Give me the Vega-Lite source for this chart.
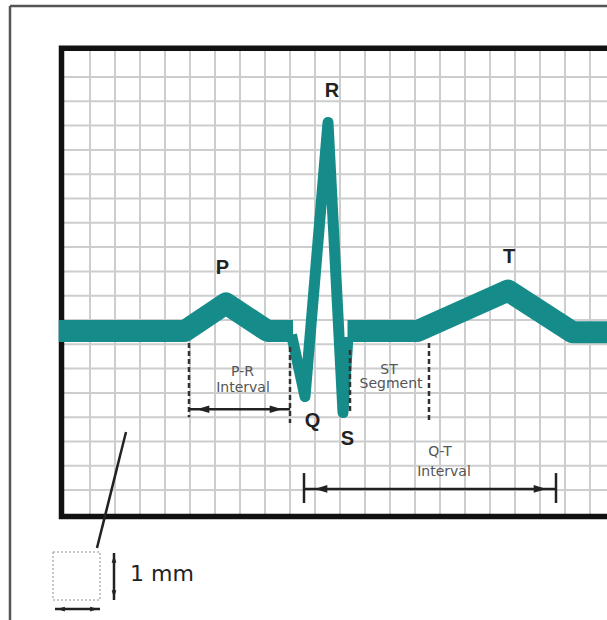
{
  "$schema": "https://vega.github.io/schema/vega-lite/v6.json",
  "width": 607,
  "height": 620,
  "padding": 0,
  "autosize": {"type": "none"},
  "background": "white",
  "config": {"view": {"stroke": null}},
  "datasets": {
    "gridV": [
      {"x": 0, "y": -1.09, "y2": 18.18}, {"x": 1, "y": -1.09, "y2": 18.18}, {"x": 2, "y": -1.09, "y2": 18.18},
      {"x": 3, "y": -1.09, "y2": 18.18}, {"x": 4, "y": -1.09, "y2": 18.18}, {"x": 5, "y": -1.09, "y2": 18.18},
      {"x": 6, "y": -1.09, "y2": 18.18}, {"x": 7, "y": -1.09, "y2": 18.18}, {"x": 8, "y": -1.09, "y2": 18.18},
      {"x": 9, "y": -1.09, "y2": 18.18}, {"x": 10, "y": -1.09, "y2": 18.18}, {"x": 11, "y": -1.09, "y2": 18.18},
      {"x": 12, "y": -1.09, "y2": 18.18}, {"x": 13, "y": -1.09, "y2": 18.18}, {"x": 14, "y": -1.09, "y2": 18.18},
      {"x": 15, "y": -1.09, "y2": 18.18}, {"x": 16, "y": -1.09, "y2": 18.18}, {"x": 17, "y": -1.09, "y2": 18.18},
      {"x": 18, "y": -1.09, "y2": 18.18}, {"x": 19, "y": -1.09, "y2": 18.18}, {"x": 20, "y": -1.09, "y2": 18.18}
    ],
    "gridH": [
      {"y": 0, "x": -1.14, "x2": 21.5}, {"y": 1, "x": -1.14, "x2": 21.5}, {"y": 2, "x": -1.14, "x2": 21.5},
      {"y": 3, "x": -1.14, "x2": 21.5}, {"y": 4, "x": -1.14, "x2": 21.5}, {"y": 5, "x": -1.14, "x2": 21.5},
      {"y": 6, "x": -1.14, "x2": 21.5}, {"y": 7, "x": -1.14, "x2": 21.5}, {"y": 8, "x": -1.14, "x2": 21.5},
      {"y": 9, "x": -1.14, "x2": 21.5}, {"y": 10, "x": -1.14, "x2": 21.5}, {"y": 11, "x": -1.14, "x2": 21.5},
      {"y": 12, "x": -1.14, "x2": 21.5}, {"y": 13, "x": -1.14, "x2": 21.5}, {"y": 14, "x": -1.14, "x2": 21.5},
      {"y": 15, "x": -1.14, "x2": 21.5}, {"y": 16, "x": -1.14, "x2": 21.5}, {"y": 17, "x": -1.14, "x2": 21.5}
    ],
    "box": [{"x": -1.14, "x2": 21.8, "y": -1.09, "y2": 18.18}],
    "ecg": [
      {"x": -1.25, "y": 6.55, "part": "a"},
      {"x": 3.8, "y": 6.55, "part": "a"},
      {"x": 5.44, "y": 7.68, "part": "a"},
      {"x": 7.1, "y": 6.55, "part": "a"},
      {"x": 8.12, "y": 6.55, "part": "a"},
      {"x": 8.06, "y": 6.4, "part": "qrs"},
      {"x": 8.6, "y": 3.85, "part": "qrs"},
      {"x": 9.52, "y": 15.13, "part": "qrs"},
      {"x": 10.12, "y": 3.19, "part": "qrs"},
      {"x": 10.32, "y": 6.3, "part": "qrs"},
      {"x": 10.3, "y": 6.55, "part": "b"},
      {"x": 13.1, "y": 6.55, "part": "b"},
      {"x": 16.72, "y": 8.21, "part": "b"},
      {"x": 19.3, "y": 6.5, "part": "b"},
      {"x": 21.2, "y": 6.5, "part": "b"}
    ],
    "dashes": [
      {"x": 3.96, "y": 6.05, "y2": 3.0},
      {"x": 8.0, "y": 5.89, "y2": 2.76},
      {"x": 10.4, "y": 5.77, "y2": 3.17},
      {"x": 13.56, "y": 6.05, "y2": 2.76}
    ],
    "lines": [
      {"x": 3.96, "x2": 8.0, "y": 3.33, "y2": 3.33},
      {"x": 8.56, "x2": 18.64, "y": 0.05, "y2": 0.05},
      {"x": 8.56, "x2": 8.56, "y": 0.7, "y2": -0.53},
      {"x": 18.64, "x2": 18.64, "y": 0.7, "y2": -0.53},
      {"x": 1.44, "x2": 0.28, "y": 2.39, "y2": -2.383},
      {"x": 0.96, "x2": 0.96, "y": -2.588, "y2": -4.523},
      {"x": -1.4, "x2": 0.4, "y": -4.897, "y2": -4.897}
    ],
    "frame": [
      {"x": -3.2, "x2": 21.5, "y": 19.92, "y2": 19.92},
      {"x": -3.2, "x2": -3.2, "y": 19.92, "y2": -6}
    ],
    "headsBig": [
      {"x": 4.52, "y": 3.33, "dir": "left"},
      {"x": 7.44, "y": 3.33, "dir": "right"},
      {"x": 9.24, "y": 0.05, "dir": "left"},
      {"x": 18.0, "y": 0.05, "dir": "right"}
    ],
    "headsSmall": [
      {"x": 0.96, "y": -2.83, "dir": "up"},
      {"x": 0.96, "y": -4.28, "dir": "down"},
      {"x": -1.16, "y": -4.897, "dir": "left"},
      {"x": 0.16, "y": -4.897, "dir": "right"}
    ],
    "square": [{"x": -1.48, "x2": 0.4, "y": -2.547, "y2": -4.523}],
    "labels": [
      {"x": 5.3, "y": 9.12, "text": "P"},
      {"x": 9.68, "y": 16.44, "text": "R"},
      {"x": 16.76, "y": 9.59, "text": "T"},
      {"x": 8.9, "y": 2.84, "text": "Q"},
      {"x": 10.3, "y": 2.1, "text": "S"}
    ],
    "notes": [
      {"x": 6.1, "y": 4.88, "text": "P-R"},
      {"x": 6.12, "y": 4.22, "text": "Interval"},
      {"x": 11.96, "y": 4.96, "text": "ST"},
      {"x": 12.04, "y": 4.35, "text": "Segment"},
      {"x": 14.0, "y": 1.55, "text": "Q-T"},
      {"x": 14.16, "y": 0.75, "text": "Interval"}
    ],
    "unit": [{"x": 1.6, "y": -3.45, "text": "1 mm"}]
  },
  "encoding": {
    "x": {"field": "x", "type": "quantitative", "scale": {"domain": [-3.6, 20.68], "nice": false, "zero": false}, "axis": null},
    "y": {"field": "y", "type": "quantitative", "scale": {"domain": [-5.3457, 20.1687], "nice": false, "zero": false}, "axis": null}
  },
  "layer": [
    {
      "data": {"name": "gridV"},
      "mark": {"type": "rule", "color": "#cdcdcd", "strokeWidth": 2},
      "encoding": {"y2": {"field": "y2"}}
    },
    {
      "data": {"name": "gridH"},
      "mark": {"type": "rule", "color": "#cdcdcd", "strokeWidth": 2},
      "encoding": {"x2": {"field": "x2"}}
    },
    {
      "data": {"name": "box"},
      "mark": {"type": "rect", "fill": "transparent", "stroke": "#111111", "strokeWidth": 5.5},
      "encoding": {"x2": {"field": "x2"}, "y2": {"field": "y2"}}
    },
    {
      "data": {"name": "ecg"},
      "mark": {"type": "line", "color": "#168c8a", "strokeJoin": "round", "strokeCap": "butt"},
      "encoding": {
        "strokeWidth": {"field": "part", "type": "nominal", "scale": {"type": "ordinal", "domain": ["a", "qrs", "b"], "range": [22, 11, 22]}, "legend": null}
      }
    },
    {
      "data": {"name": "dashes"},
      "mark": {"type": "rule", "color": "#333333", "strokeWidth": 2.5, "strokeDash": [5, 3]},
      "encoding": {"y2": {"field": "y2"}}
    },
    {
      "data": {"name": "lines"},
      "mark": {"type": "rule", "color": "#222222", "strokeWidth": 2.5},
      "encoding": {"x2": {"field": "x2"}, "y2": {"field": "y2"}}
    },
    {
      "data": {"name": "frame"},
      "mark": {"type": "rule", "color": "#555555", "strokeWidth": 2.5},
      "encoding": {"x2": {"field": "x2"}, "y2": {"field": "y2"}}
    },
    {
      "data": {"name": "headsBig"},
      "mark": {"type": "point", "filled": true, "color": "#222222", "opacity": 1, "size": 160},
      "encoding": {
        "shape": {"field": "dir", "type": "nominal", "scale": {"domain": ["left", "right", "up", "down"], "range": ["M -1 0 L 1 -0.6 L 1 0.6 Z", "M 1 0 L -1 -0.6 L -1 0.6 Z", "M 0 -1 L -0.6 1 L 0.6 1 Z", "M 0 1 L -0.6 -1 L 0.6 -1 Z"]}, "legend": null}
      }
    },
    {
      "data": {"name": "headsSmall"},
      "mark": {"type": "point", "filled": true, "color": "#222222", "opacity": 1, "size": 60},
      "encoding": {
        "shape": {"field": "dir", "type": "nominal", "scale": {"domain": ["left", "right", "up", "down"], "range": ["M -1 0 L 1 -0.6 L 1 0.6 Z", "M 1 0 L -1 -0.6 L -1 0.6 Z", "M 0 -1 L -0.6 1 L 0.6 1 Z", "M 0 1 L -0.6 -1 L 0.6 -1 Z"]}, "legend": null}
      }
    },
    {
      "data": {"name": "square"},
      "mark": {"type": "rect", "fill": "transparent", "stroke": "#b5b5b5", "strokeWidth": 1.5, "strokeDash": [2, 2]},
      "encoding": {"x2": {"field": "x2"}, "y2": {"field": "y2"}}
    },
    {
      "data": {"name": "labels"},
      "mark": {"type": "text", "font": "Liberation Sans", "fontWeight": "bold", "fontSize": 20, "color": "#222222", "align": "center", "baseline": "middle"},
      "encoding": {"text": {"field": "text"}}
    },
    {
      "data": {"name": "notes"},
      "mark": {"type": "text", "font": "DejaVu Sans", "fontSize": 14, "color": "#555555", "align": "center", "baseline": "middle"},
      "encoding": {"text": {"field": "text"}}
    },
    {
      "data": {"name": "unit"},
      "mark": {"type": "text", "font": "DejaVu Sans", "fontSize": 22, "color": "#222222", "align": "left", "baseline": "middle"},
      "encoding": {"text": {"field": "text"}}
    }
  ]
}
